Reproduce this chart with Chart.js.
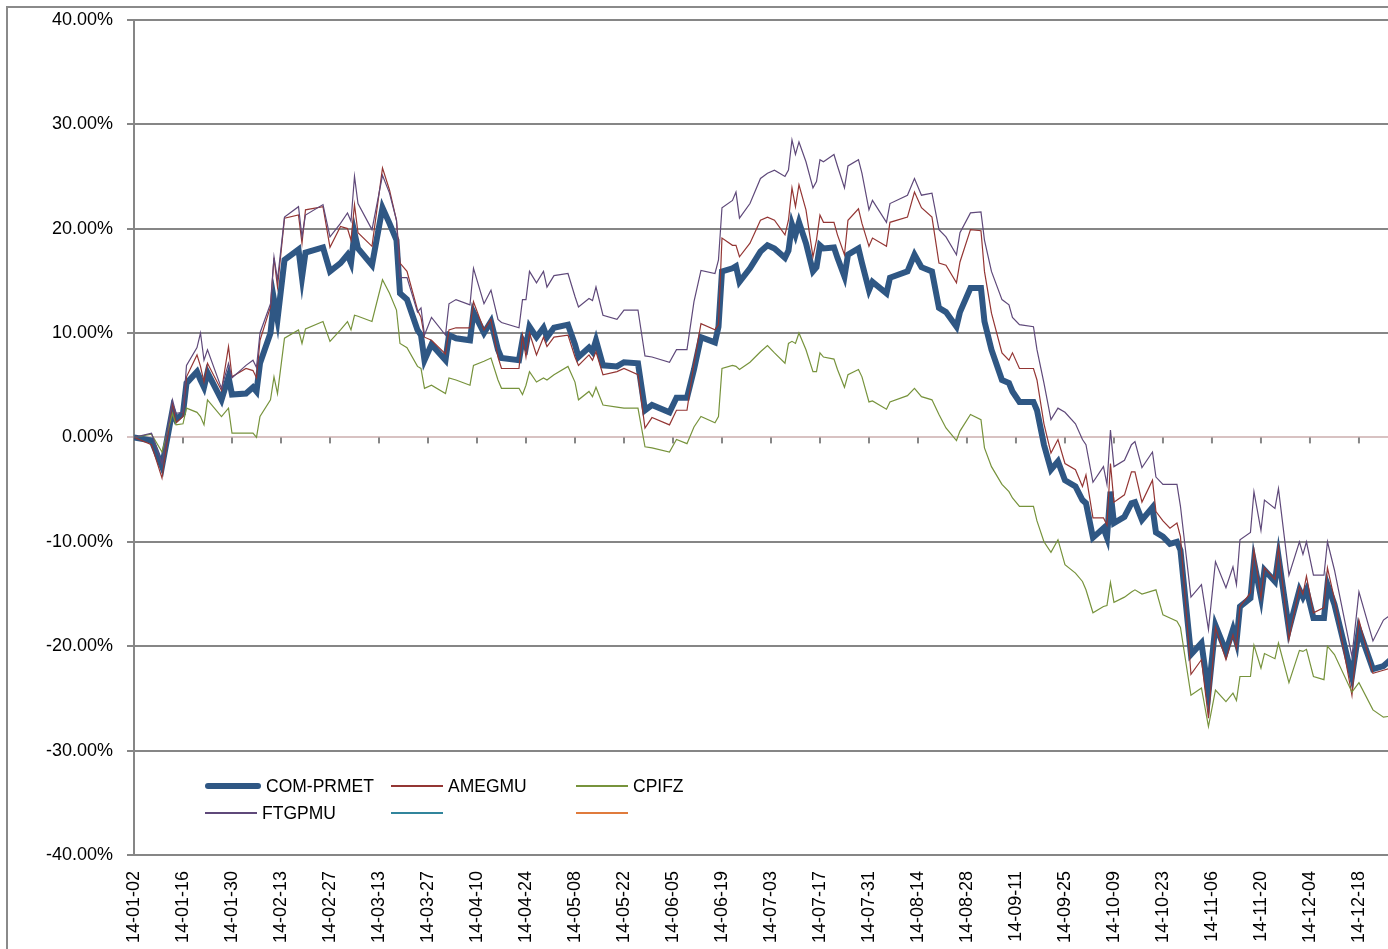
<!DOCTYPE html>
<html>
<head>
<meta charset="utf-8">
<title>COM-PRMET vs peers</title>
<script src="https://cdn.jsdelivr.net/npm/chart.js@4.4.1/dist/chart.umd.min.js"></script>
<style>
  html, body { margin: 0; padding: 0; background: #fff; overflow: hidden; }
  #wrap { position: relative; width: 1388px; height: 949px; overflow: hidden; }
  #frame { position: absolute; left: 6px; top: 6px; width: 1420px; height: 980px; border: 2px solid #8a8a8a; box-sizing: border-box; }
  #chart { position: absolute; left: 0; top: -5px; }
  #legend { position: absolute; left: 0; top: 0; font-family: "Liberation Sans", Arial, sans-serif; font-size: 17.5px; color: #000; }
  .item { position: absolute; height: 22px; display: flex; align-items: center; white-space: nowrap; }
  .swatch { display: inline-block; margin-right: 5px; }
</style>
</head>
<body>
<div id="wrap">
  <div id="frame"></div>
  <canvas id="chart" width="1388" height="954"></canvas>
  <div id="legend"></div>
</div>
<script>
// trading days (values in %)
const dates = [
  '2014-01-02','2014-01-07','2014-01-10','2014-01-13','2014-01-14','2014-01-16','2014-01-17','2014-01-20','2014-01-21','2014-01-22','2014-01-23','2014-01-27','2014-01-29','2014-01-30',
  '2014-02-03','2014-02-05','2014-02-06','2014-02-07','2014-02-10','2014-02-11','2014-02-12','2014-02-14','2014-02-18','2014-02-19','2014-02-20','2014-02-25','2014-02-27',
  '2014-03-02','2014-03-04','2014-03-05','2014-03-06','2014-03-07','2014-03-11','2014-03-14','2014-03-16','2014-03-18','2014-03-19','2014-03-21','2014-03-24','2014-03-25','2014-03-26','2014-03-28',
  '2014-04-01','2014-04-02','2014-04-04','2014-04-08','2014-04-09','2014-04-12','2014-04-14','2014-04-16','2014-04-17','2014-04-22','2014-04-23','2014-04-24','2014-04-25','2014-04-27','2014-04-29','2014-04-30',
  '2014-05-02','2014-05-06','2014-05-08','2014-05-09','2014-05-12','2014-05-13','2014-05-14','2014-05-16','2014-05-20','2014-05-22','2014-05-26','2014-05-28','2014-05-30',
  '2014-06-04','2014-06-06','2014-06-09','2014-06-11','2014-06-13','2014-06-17','2014-06-18','2014-06-19','2014-06-22','2014-06-23','2014-06-24','2014-06-27','2014-06-30',
  '2014-07-02','2014-07-04','2014-07-07','2014-07-08','2014-07-09','2014-07-10','2014-07-11','2014-07-13','2014-07-15','2014-07-16','2014-07-17','2014-07-18','2014-07-21','2014-07-22','2014-07-24','2014-07-25','2014-07-28','2014-07-29','2014-07-31',
  '2014-08-01','2014-08-05','2014-08-06','2014-08-11','2014-08-13','2014-08-15','2014-08-18','2014-08-20','2014-08-22','2014-08-25','2014-08-26','2014-08-29',
  '2014-09-01','2014-09-02','2014-09-04','2014-09-07','2014-09-09','2014-09-10','2014-09-12','2014-09-16','2014-09-17','2014-09-19','2014-09-21','2014-09-23','2014-09-25','2014-09-28','2014-09-30',
  '2014-10-01','2014-10-03','2014-10-06','2014-10-07','2014-10-08','2014-10-09','2014-10-12','2014-10-14','2014-10-15','2014-10-17','2014-10-20','2014-10-21','2014-10-23','2014-10-25','2014-10-27','2014-10-28','2014-10-31',
  '2014-11-03','2014-11-05','2014-11-07','2014-11-10','2014-11-12','2014-11-13','2014-11-14','2014-11-17','2014-11-18','2014-11-20','2014-11-21','2014-11-24','2014-11-25','2014-11-28',
  '2014-12-01','2014-12-02','2014-12-03','2014-12-05','2014-12-08','2014-12-09','2014-12-11','2014-12-16','2014-12-18','2014-12-22','2014-12-25','2014-12-27'
];

const comPrmet = [
  0, -0.3, -2.8, 2.6, 1.7, 2.3, 5.2, 6.3, 5.5, 4.8, 6.2, 3.6, 5.8, 4.1,
  4.2, 4.8, 4.4, 7.1, 10.0, 13.2, 11.3, 17.0, 18.0, 15.3, 17.7, 18.2, 15.9,
  16.7, 17.5, 16.7, 19.6, 18.1, 16.5, 22.0, 20.5, 18.9, 13.8, 13.2, 10.3, 9.8, 7.4, 8.9,
  7.4, 9.8, 9.5, 9.3, 12.0, 10.0, 11.1, 8.4, 7.6, 7.4, 9.3, 8.7, 10.6, 9.6, 10.5, 9.6,
  10.5, 10.8, 8.9, 7.7, 8.6, 8.2, 9.3, 6.9, 6.8, 7.2, 7.1, 2.6, 3.1,
  2.4, 3.8, 3.8, 6.5, 9.6, 9.1, 10.6, 15.9, 16.2, 16.4, 14.9, 16.2, 17.8,
  18.4, 18.1, 17.2, 17.9, 20.4, 19.4, 20.6, 18.6, 15.9, 16.3, 18.4, 18.1, 18.2, 17.2, 15.4, 17.5, 18.1, 16.7, 14.1,
  14.9, 13.8, 15.3, 15.9, 17.5, 16.3, 15.9, 12.4, 12.0, 10.6, 12.0, 14.3,
  14.3, 11.1, 8.4, 5.5, 5.2, 4.4, 3.4, 3.4, 2.6, -0.7, -3.1, -2.3, -4.1, -4.7, -6.0,
  -6.3, -9.6, -8.7, -9.6, -5.2, -8.2, -7.6, -6.3, -6.2, -7.9, -6.7, -9.1, -9.5, -10.2, -10.0, -10.8, -20.8,
  -19.7, -24.5, -18.0, -20.5, -18.4, -19.6, -16.2, -15.4, -11.9, -15.3, -12.7, -13.8, -11.4, -18.4,
  -14.6, -15.3, -14.6, -17.3, -17.3, -14.1, -16.0, -22.9, -18.4, -22.2, -21.9, -21.3
];

const amegmu = [
  0, -0.7, -3.9, 3.3, 1.4, 2.0, 5.8, 7.9, 6.8, 5.3, 7.1, 4.5, 8.7, 5.8,
  6.6, 6.4, 5.7, 9.3, 12.5, 17.2, 14.4, 21.0, 21.3, 18.6, 21.8, 22.1, 18.2,
  20.2, 20.0, 18.9, 22.3, 19.6, 18.3, 25.8, 23.7, 20.8, 16.7, 15.9, 12.2, 11.5, 9.6, 9.3,
  8.0, 10.3, 10.5, 10.5, 13.0, 10.3, 11.3, 7.7, 6.6, 6.6, 9.8, 7.7, 10.0, 7.9, 9.6, 8.7,
  9.6, 9.8, 7.7, 6.9, 7.9, 7.4, 8.2, 6.0, 6.3, 6.6, 6.0, 0.9, 1.9,
  1.2, 2.6, 2.6, 7.1, 10.9, 10.3, 10.8, 19.1, 18.4, 18.4, 17.3, 18.6, 20.8,
  21.1, 20.8, 19.4, 20.8, 23.9, 22.1, 24.2, 21.8, 17.3, 18.9, 21.3, 20.6, 20.6, 19.4, 17.5, 20.8, 21.9, 20.5, 18.3,
  19.1, 18.3, 20.6, 21.1, 23.5, 22.0, 21.1, 16.7, 16.5, 14.8, 16.8, 19.9,
  19.8, 15.9, 11.9, 8.1, 7.4, 8.1, 6.6, 6.6, 5.5, 1.3, -1.5, -0.2, -2.5, -3.1, -4.7,
  -3.6, -7.7, -7.7, -8.4, -2.5, -6.2, -5.5, -3.3, -3.3, -6.2, -4.1, -7.1, -8.0, -8.7, -8.2, -9.5, -22.7,
  -21.3, -26.9, -18.2, -21.3, -18.9, -20.2, -16.2, -14.9, -10.8, -15.4, -12.5, -13.6, -10.5, -19.4,
  -14.3, -15.0, -13.3, -16.8, -16.3, -12.5, -15.5, -24.7, -17.5, -22.6, -22.3, -22.1
];

const cpifz = [
  0, 0.3, -1.4, 2.3, 1.2, 1.3, 2.8, 2.4, 2.0, 1.2, 3.6, 2.0, 2.8, 0.4,
  0.4, 0.4, 0.0, 2.0, 3.6, 5.8, 4.2, 9.5, 10.3, 9.0, 10.4, 11.1, 9.2,
  10.3, 11.1, 10.3, 11.7, 11.6, 11.1, 15.1, 13.8, 12.2, 9.0, 8.6, 6.8, 6.6, 4.7, 5.0,
  4.2, 5.7, 5.5, 5.0, 6.9, 7.3, 7.6, 5.5, 4.7, 4.7, 4.1, 5.0, 6.3, 5.3, 5.7, 5.5,
  6.0, 6.8, 5.3, 3.6, 4.4, 3.9, 4.8, 3.1, 2.9, 2.8, 2.8, -0.9, -1.0,
  -1.4, -0.2, -0.6, 1.0, 2.0, 1.4, 2.0, 6.6, 6.9, 6.8, 6.5, 7.2, 8.2,
  8.8, 8.1, 7.1, 9.0, 9.2, 9.0, 10.0, 8.4, 6.3, 6.3, 8.1, 7.7, 7.5, 6.5, 4.8, 6.0, 6.5, 5.8, 3.4,
  3.5, 2.7, 3.4, 4.0, 4.7, 3.9, 3.6, 2.2, 0.9, -0.3, 0.6, 2.2,
  1.7, -1.0, -2.8, -4.5, -5.2, -5.8, -6.6, -6.6, -8.0, -10.0, -11.0, -9.8, -12.2, -13.0, -13.8,
  -14.6, -16.8, -16.2, -16.1, -13.9, -15.8, -15.3, -14.8, -14.6, -15.0, -14.7, -14.6, -17.0, -17.3, -17.6, -18.2, -24.7,
  -24.0, -27.7, -24.2, -25.3, -24.5, -25.2, -22.9, -22.9, -19.9, -22.1, -20.7, -21.2, -19.7, -23.5,
  -20.4, -20.5, -20.3, -22.9, -23.2, -20.0, -20.8, -24.4, -23.5, -26.1, -26.8, -26.7
];

const ftgpmu = [
  0, 0.4, -2.5, 3.6, 2.3, 2.4, 6.9, 8.6, 10.0, 7.4, 8.4, 4.7, 7.1, 5.7,
  6.9, 7.4, 6.7, 10.0, 12.8, 17.3, 15.1, 21.1, 22.1, 19.2, 21.3, 22.3, 19.2,
  20.5, 21.5, 20.7, 25.0, 22.4, 19.9, 25.1, 23.4, 20.8, 15.3, 15.3, 12.0, 12.4, 9.8, 11.5,
  9.8, 12.8, 13.2, 12.7, 16.2, 12.8, 14.1, 11.3, 11.0, 10.5, 13.2, 13.2, 15.9, 14.8, 15.9, 14.4,
  15.5, 15.7, 13.5, 12.5, 13.3, 13.1, 14.4, 11.7, 11.3, 12.2, 12.2, 7.8, 7.7,
  7.2, 8.4, 8.4, 13.0, 16.0, 15.7, 17.0, 22.0, 22.7, 23.5, 21.0, 22.4, 24.8,
  25.3, 25.6, 25.0, 25.6, 28.5, 27.1, 28.3, 26.4, 23.9, 24.5, 26.6, 26.4, 27.1, 26.0, 23.9, 26.0, 26.6, 25.3, 21.8,
  22.7, 20.6, 22.4, 23.2, 24.8, 23.2, 23.4, 19.9, 19.2, 17.5, 19.6, 21.5,
  21.6, 18.9, 15.9, 13.2, 12.7, 11.5, 10.8, 10.6, 8.4, 5.2, 1.7, 2.8, 2.4, 1.3, -0.2,
  -0.7, -4.3, -2.8, -4.5, 0.7, -2.8, -2.2, -0.7, -0.4, -2.9, -1.4, -3.8, -4.5, -4.5, -4.5, -6.6, -15.3,
  -14.1, -18.4, -11.9, -14.4, -12.4, -14.1, -9.8, -9.1, -5.2, -8.9, -6.0, -6.8, -4.9, -13.2,
  -10.0, -11.2, -10.0, -13.2, -13.2, -10.0, -12.7, -21.0, -14.8, -19.5, -17.5, -17.0
];

const tickLabels = ['14-01-02','14-01-16','14-01-30','14-02-13','14-02-27','14-03-13','14-03-27','14-04-10','14-04-24',
  '14-05-08','14-05-22','14-06-05','14-06-19','14-07-03','14-07-17','14-07-31','14-08-14','14-08-28','14-09-11',
  '14-09-25','14-10-09','14-10-23','14-11-06','14-11-20','14-12-04','14-12-18'];

const yMin = -40, yMax = 40, yStep = 10;

// days since the first date
function dayOf(s) {
  const p = s.split('-').map(Number);
  return (Date.UTC(p[0], p[1] - 1, p[2]) - Date.UTC(2014, 0, 2)) / 86400000;
}
const xs = dates.map(dayOf);
const tickDays = tickLabels.map(l => dayOf('20' + l));

const series = [
  { name: 'COM-PRMET', values: comPrmet, color: '#2f5784', width: 6 },
  { name: 'AMEGMU', values: amegmu, color: '#943634', width: 1.2 },
  { name: 'CPIFZ', values: cpifz, color: '#77933c', width: 1.2 },
  { name: 'FTGPMU', values: ftgpmu, color: '#5f497a', width: 1.2 },
  { name: '', values: [], color: '#31859c', width: 1.2 },
  { name: '', values: [], color: '#e07b3c', width: 1.2 }
];

const tickFont = { family: '"Liberation Sans", Arial, sans-serif', size: 18 };

// little tick marks hanging under the zero line
const zeroTicks = {
  id: 'zeroTicks',
  beforeDatasetsDraw(chart) {
    const { ctx, scales: { x, y } } = chart;
    const y0 = y.getPixelForValue(0);
    ctx.save();
    ctx.strokeStyle = '#868686';
    ctx.lineWidth = 2;
    tickDays.forEach(d => {
      const px = x.getPixelForValue(d);
      ctx.beginPath();
      ctx.moveTo(px, y0);
      ctx.lineTo(px, y0 + 6);
      ctx.stroke();
    });
    ctx.restore();
  }
};

new Chart(document.getElementById('chart').getContext('2d'), {
  type: 'line',
  data: {
    datasets: series.map((s, i) => ({
      label: s.name,
      data: s.values.map((v, j) => ({ x: xs[j], y: v })),
      borderColor: s.color,
      backgroundColor: s.color,
      borderWidth: s.width,
      pointRadius: 0,
      tension: 0,
      fill: false,
      order: series.length - i
    }))
  },
  options: {
    responsive: false,
    animation: false,
    layout: { padding: 0 },
    plugins: { legend: { display: false }, tooltip: { enabled: false } },
    scales: {
      x: {
        type: 'linear',
        min: 0,
        max: 358.3,
        afterBuildTicks: scale => { scale.ticks = tickDays.map(v => ({ value: v })); },
        afterFit: scale => { scale.height = 94; },
        grid: { display: false, drawTicks: true, tickLength: 13 },
        border: { display: false },
        ticks: {
          autoSkip: false,
          minRotation: 90,
          maxRotation: 90,
          padding: 3,
          color: '#000',
          font: tickFont,
          callback: v => tickLabels[tickDays.indexOf(v)]
        }
      },
      y: {
        min: yMin,
        max: yMax,
        afterFit: scale => { scale.width = 134; },
        ticks: {
          stepSize: yStep,
          padding: 14,
          color: '#000',
          font: tickFont,
          callback: v => v.toFixed(2) + '%'
        },
        grid: {
          color: c => (c.tick && c.tick.value === 0) ? '#d8c2c2' : '#868686',
          lineWidth: 2,
          tickLength: 7
        },
        border: { color: '#868686', width: 2 }
      }
    }
  },
  plugins: [zeroTicks]
});

// legend laid out inside the plot, two rows of three
const legendCols = [205, 391, 576];
const legendRows = [786, 813];
const legend = document.getElementById('legend');
series.forEach((s, i) => {
  const item = document.createElement('div');
  item.className = 'item';
  item.style.left = legendCols[i % 3] + 'px';
  item.style.top = (legendRows[Math.floor(i / 3)] - 11) + 'px';
  const sw = document.createElement('span');
  sw.className = 'swatch';
  sw.style.width = (i === 0 ? 56 : 52) + 'px';
  sw.style.height = Math.max(1.5, s.width) + 'px';
  sw.style.background = s.color;
  sw.style.borderRadius = i === 0 ? '3px' : '0';
  item.appendChild(sw);
  const txt = document.createElement('span');
  txt.textContent = s.name;
  item.appendChild(txt);
  legend.appendChild(item);
});
</script>
</body>
</html>
